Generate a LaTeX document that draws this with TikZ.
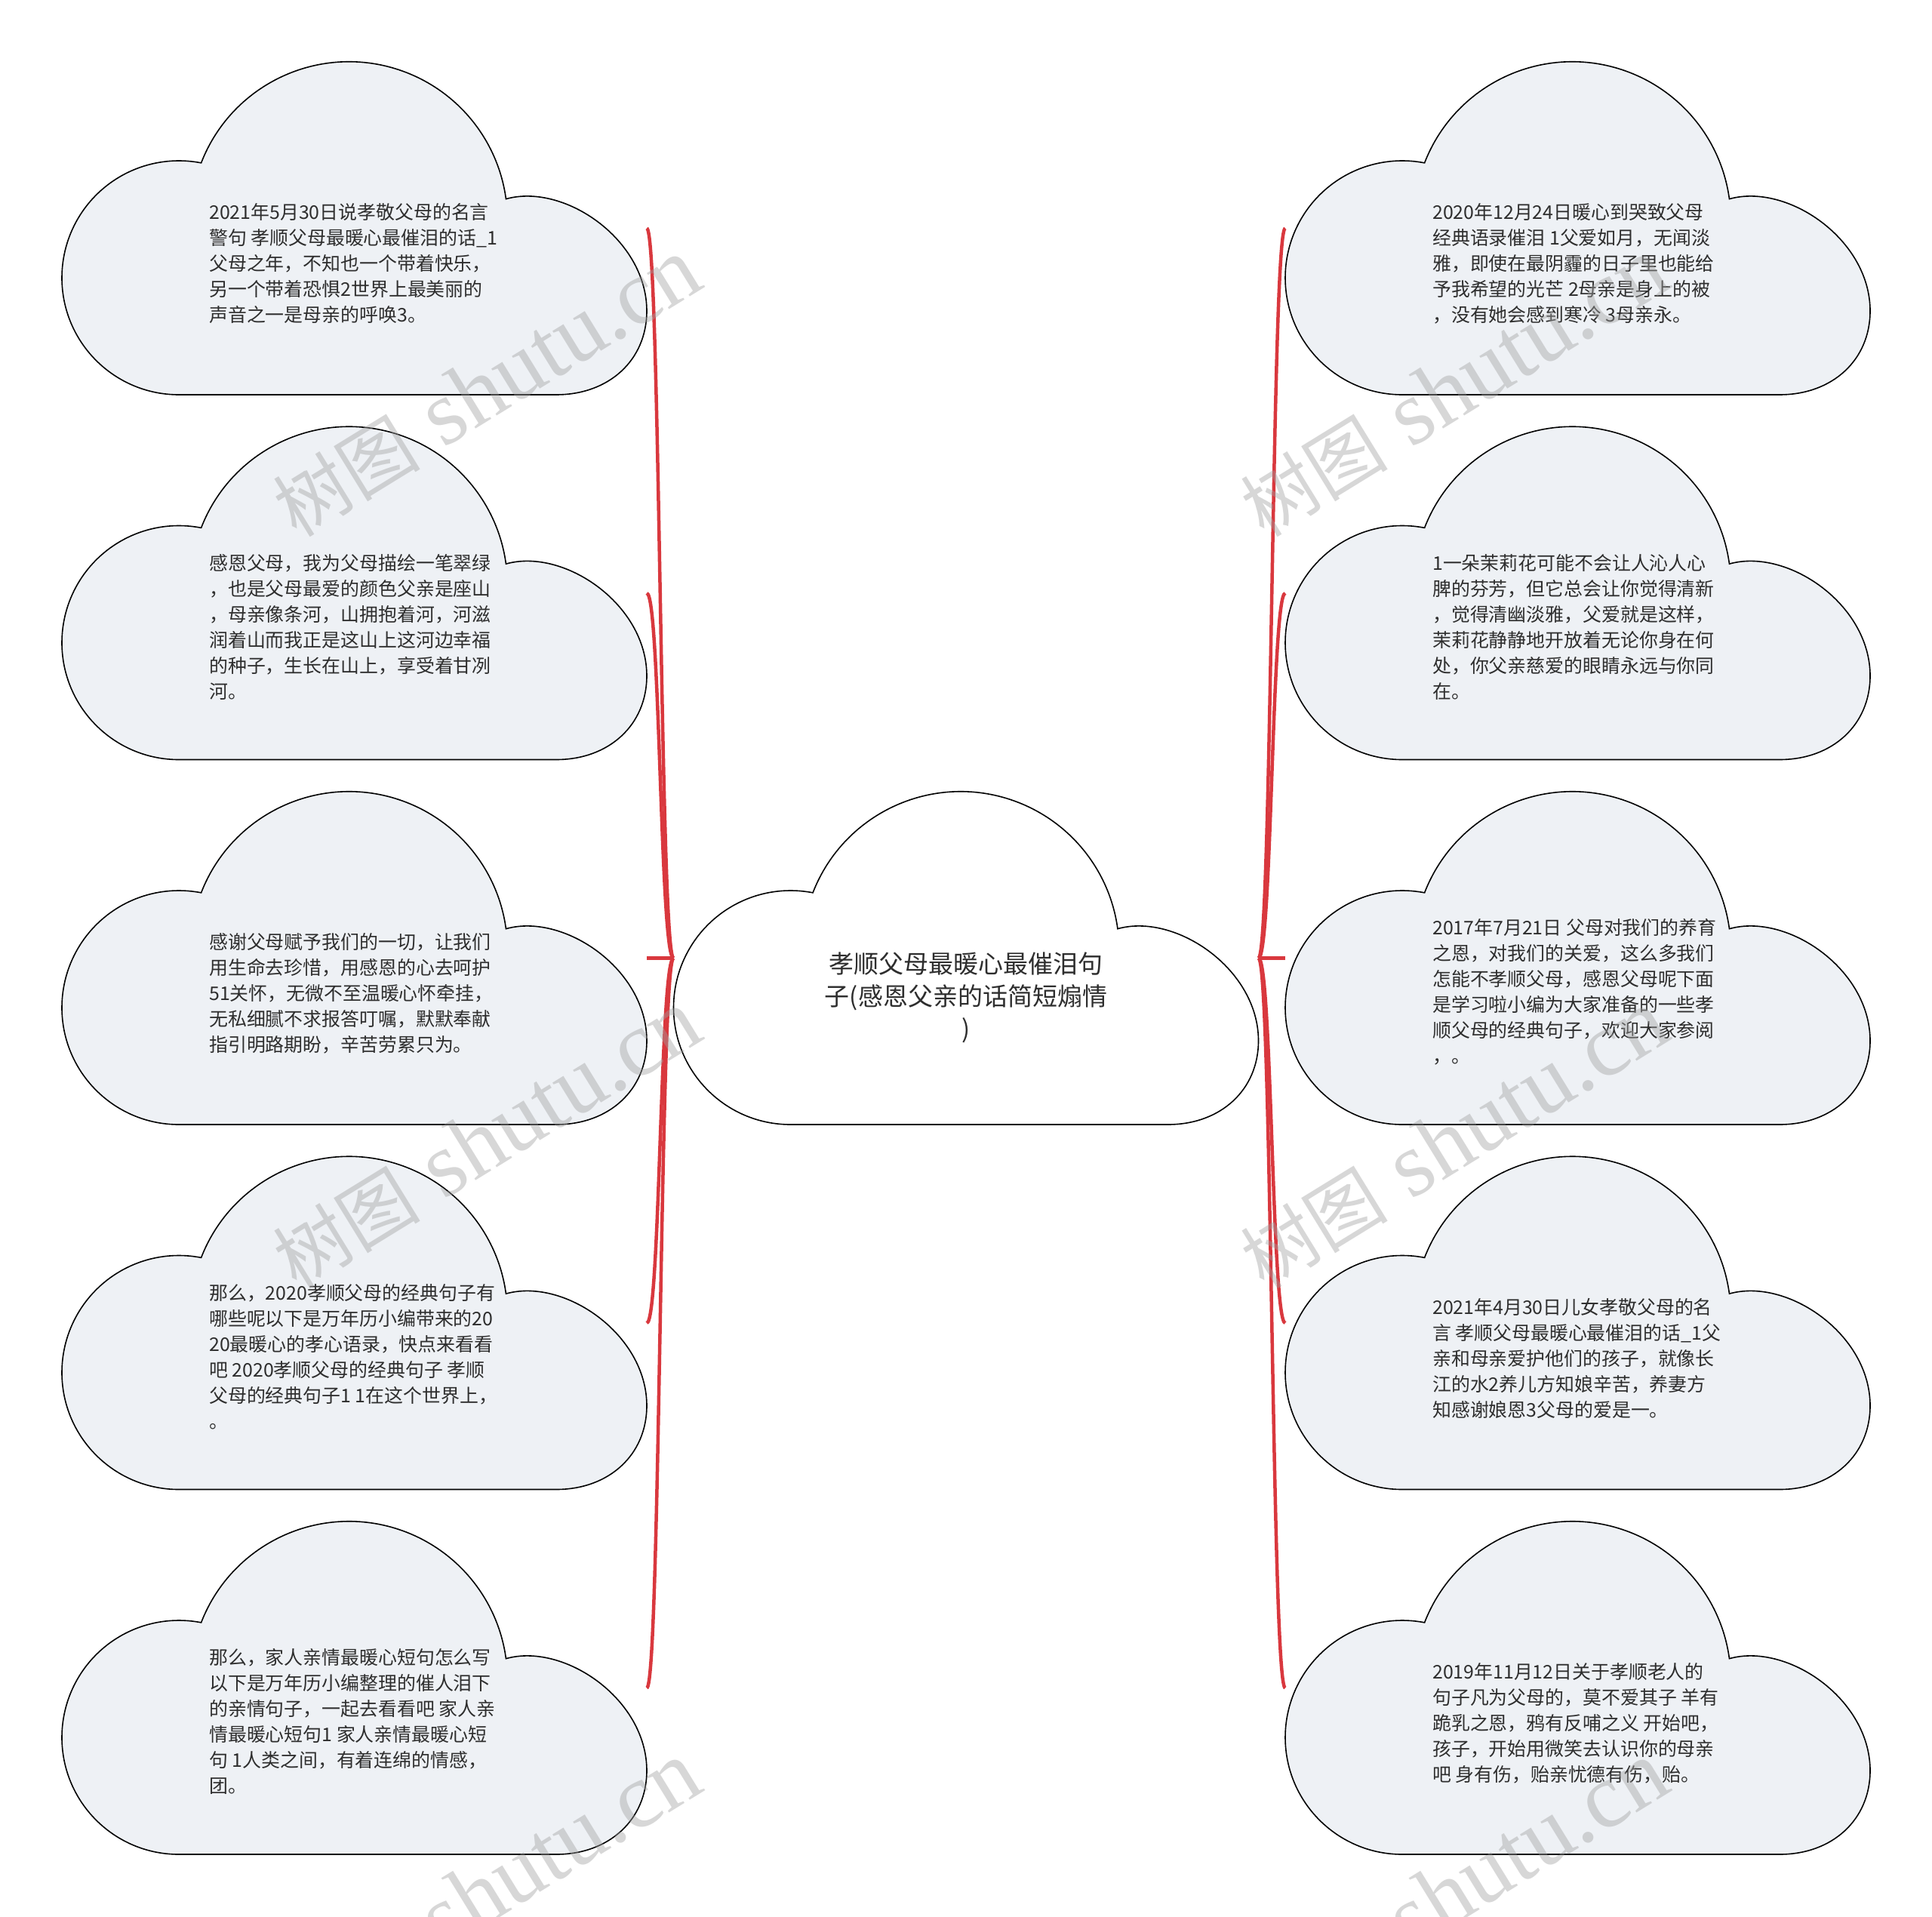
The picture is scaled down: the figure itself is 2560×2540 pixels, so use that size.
\documentclass[tikz,border=0pt]{standalone}
\usepackage{fontspec}
\newfontfamily\cjk{Noto Sans CJK SC}
\newfontfamily\wmlatin{Liberation Serif}
\usetikzlibrary{calc}
\definecolor{cloudfill}{HTML}{EEF1F5}
\definecolor{linkred}{HTML}{D9383E}
\definecolor{txt}{HTML}{2E2E2E}
\definecolor{wm}{HTML}{A0A0A0}
\tikzset{
 cloudbox/.style={minimum width=775pt, minimum height=441pt, inner sep=0pt, outer sep=0pt, anchor=north west},
 cloudline/.style={draw=black, line width=1.6pt},
 leaftext/.style={font=\cjk\fontsize{24.9}{34}\selectfont, text=txt, align=left, inner sep=0pt, anchor=west},
 roottext/.style={font=\cjk\fontsize{33}{43}\selectfont, text=txt, align=center, inner sep=0pt},
 link/.style={draw=linkred, line width=4.5pt},
 wmark/.style={text=wm, text opacity=0.42, rotate=31.6, inner sep=0pt},
}
\newcommand\wmtext{{\cjk\fontsize{98}{98}\selectfont 树图}\hspace{32pt}{\wmlatin\fontsize{122}{122}\selectfont shutu.cn}}
\newcommand\cloudshape[2]{%
 \begin{scope}[shift={(#1.north west)}]
 \path[cloudline, fill=#2] (155,441) arc[start angle=90, end angle=281, radius=155]
   arc[start angle=201.2, end angle=352.3, radius=210]
   .. controls (665,160) and (775,235) .. (775,330)
   .. controls (775,395) and (725,441) .. (655,441) -- cycle;
 \end{scope}}
\begin{document}
\begin{tikzpicture}[x=1pt,y=-1pt]
\useasboundingbox[fill=white] (0,0) rectangle (2560,2540);
% bounding nodes
\node[cloudbox] (root) at (892.5,1049) {};
\node[cloudbox] (l1) at (82,82) {};
\node[cloudbox] (l2) at (82,565.5) {};
\node[cloudbox] (l3) at (82,1049) {};
\node[cloudbox] (l4) at (82,1532.5) {};
\node[cloudbox] (l5) at (82,2016) {};
\node[cloudbox] (r1) at (1703,82) {};
\node[cloudbox] (r2) at (1703,565.5) {};
\node[cloudbox] (r3) at (1703,1049) {};
\node[cloudbox] (r4) at (1703,1532.5) {};
\node[cloudbox] (r5) at (1703,2016) {};
% cloud outlines
\cloudshape{root}{white}
\foreach \n in {l1,l2,l3,l4,l5,r1,r2,r3,r4,r5}{\cloudshape{\n}{cloudfill}}
% texts
\node[roottext] (troot) at ($(root.north west)+(387.5,273)$) {孝顺父母最暖心最催泪句\\子(感恩父亲的话简短煽情\\)};
\node[leaftext] (tl1) at ($(l1.north west)+(195,267)$) {2021年5月30日说孝敬父母的名言\\警句 孝顺父母最暖心最催泪的话\_1\\父母之年，不知也一个带着快乐，\\另一个带着恐惧2世界上最美丽的\\声音之一是母亲的呼唤3。};
\node[leaftext] (tl2) at ($(l2.north west)+(195,265)$) {感恩父母，我为父母描绘一笔翠绿\\，也是父母最爱的颜色父亲是座山\\，母亲像条河，山拥抱着河，河滋\\润着山而我正是这山上这河边幸福\\的种子，生长在山上，享受着甘冽\\河。};
\node[leaftext] (tl3) at ($(l3.north west)+(195,267)$) {感谢父母赋予我们的一切，让我们\\用生命去珍惜，用感恩的心去呵护\\51关怀，无微不至温暖心怀牵挂，\\无私细腻不求报答叮嘱，默默奉献\\指引明路期盼，辛苦劳累只为。};
\node[leaftext] (tl4) at ($(l4.north west)+(195,265)$) {那么，2020孝顺父母的经典句子有\\哪些呢以下是万年历小编带来的20\\20最暖心的孝心语录，快点来看看\\吧 2020孝顺父母的经典句子 孝顺\\父母的经典句子1 1在这个世界上，\\。};
\node[leaftext] (tl5) at ($(l5.north west)+(195,265)$) {那么，家人亲情最暖心短句怎么写\\以下是万年历小编整理的催人泪下\\的亲情句子，一起去看看吧 家人亲\\情最暖心短句1 家人亲情最暖心短\\句 1人类之间，有着连绵的情感，\\团。};
\node[leaftext] (tr1) at ($(r1.north west)+(195,267)$) {2020年12月24日暖心到哭致父母\\经典语录催泪 1父爱如月，无闻淡\\雅，即使在最阴霾的日子里也能给\\予我希望的光芒 2母亲是身上的被\\，没有她会感到寒冷 3母亲永。};
\node[leaftext] (tr2) at ($(r2.north west)+(195,265)$) {1一朵茉莉花可能不会让人沁人心\\脾的芬芳，但它总会让你觉得清新\\，觉得清幽淡雅，父爱就是这样，\\茉莉花静静地开放着无论你身在何\\处，你父亲慈爱的眼睛永远与你同\\在。};
\node[leaftext] (tr3) at ($(r3.north west)+(195,265)$) {2017年7月21日 父母对我们的养育\\之恩，对我们的关爱，这么多我们\\怎能不孝顺父母，感恩父母呢下面\\是学习啦小编为大家准备的一些孝\\顺父母的经典句子，欢迎大家参阅\\，。};
\node[leaftext] (tr4) at ($(r4.north west)+(195,267)$) {2021年4月30日儿女孝敬父母的名\\言 孝顺父母最暖心最催泪的话\_1父\\亲和母亲爱护他们的孩子，就像长\\江的水2养儿方知娘辛苦，养妻方\\知感谢娘恩3父母的爱是一。};
\node[leaftext] (tr5) at ($(r5.north west)+(195,267)$) {2019年11月12日关于孝顺老人的\\句子凡为父母的，莫不爱其子 羊有\\跪乳之恩，鸦有反哺之义 开始吧，\\孩子，开始用微笑去认识你的母亲\\吧 身有伤，贻亲忧德有伤，贻。};
% connectors
\foreach \n in {l1,l2,l4,l5}{\draw[link] (\n.east) .. controls +(18,0) and +(-18,0) .. (root.west);}
\draw[link] (l3.east) -- (root.west);
\foreach \n in {r1,r2,r4,r5}{\draw[link] (root.east) .. controls +(18,0) and +(-18,0) .. (\n.west);}
\draw[link] (root.east) -- (r3.west);
% watermarks
\node[wmark] (wm1) at (645,514) {\wmtext};
\node[wmark] (wm2) at (645,1510) {\wmtext};
\node[wmark] (wm3) at (645,2506) {\wmtext};
\node[wmark] (wm4) at (1927,514) {\wmtext};
\node[wmark] (wm5) at (1927,1510) {\wmtext};
\node[wmark] (wm6) at (1927,2506) {\wmtext};
\end{tikzpicture}
\end{document}
